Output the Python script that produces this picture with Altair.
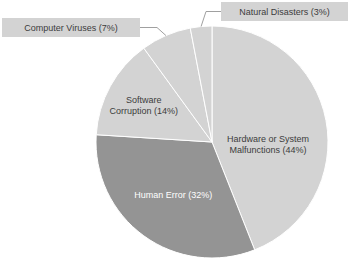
import altair as alt
import pandas as pd
import numpy as np

# ---- data ----
labels = ["Hardware or System Malfunctions", "Human Error", "Software Corruption",
          "Computer Viruses", "Natural Disasters"]
shares = [44, 32, 14, 7, 3]
text_lines = [["Hardware or System", "Malfunctions (44%)"], ["Human Error (32%)"],
              ["Software", "Corruption (14%)"], ["Computer Viruses (7%)"],
              ["Natural Disasters (3%)"]]

# ---- styles / layout ----
colors = ["#d3d3d3", "#949494", "#d3d3d3", "#d3d3d3", "#d3d3d3"]
FONT = "Liberation Sans"
W, H = 350, 260
CX, CY, R = 212, 142, 116

df = pd.DataFrame({"label": labels, "share": shares, "idx": list(range(len(labels)))})
df["text"] = ["\n".join(t) for t in text_lines]
df["mid"] = df["share"].cumsum() - df["share"] / 2

base = alt.Chart(df)

pie = base.mark_arc(outerRadius=R, stroke="white", strokeWidth=1).encode(
    theta=alt.Theta("share:Q", stack=True),
    order=alt.Order("idx:Q"),
    color=alt.Color("label:N", scale=alt.Scale(domain=labels, range=colors), legend=None),
    x=alt.value(CX), y=alt.value(CY),
)

theta_mid = alt.Theta("mid:Q", stack=False, scale=alt.Scale(domain=[0, 100], range=[0, 2 * np.pi]))

def inside(i, r, color, dy=0):
    return base.transform_filter(alt.datum.idx == i).mark_text(
        radius=r, font=FONT, fontSize=9, lineBreak="\n", lineHeight=11,
        color=color, dy=dy, align="center", baseline="middle",
    ).encode(theta=theta_mid, text="text:N", x=alt.value(CX), y=alt.value(CY))

lab_hw = inside(0, 57, "#3c3c3c", dy=8)
lab_he = inside(1, 66, "#ffffff")
lab_sw = inside(2, 78, "#3c3c3c", dy=-4)

# ---- outside labels with boxes and leader lines ----
boxes = {3: (2, 140, 18, 37), 4: (221, 348, 2, 21)}
elbow_x = {3: 157, 4: 206}
box_rows, line_rows = [], []
for i, (x1, x2, y1, y2) in boxes.items():
    ym = (y1 + y2) / 2
    box_rows.append({"label": labels[i], "text": text_lines[i][0], "x1": x1, "x2": x2,
                     "y1": y1, "y2": y2, "xc": (x1 + x2) / 2, "yc": ym})
    ang = df.loc[i, "mid"] / 100 * 2 * np.pi
    rim_x = CX + R * np.sin(ang)
    rim_y = CY - R * np.cos(ang)
    start_x = x2 if x2 < CX else x1
    pts = [(start_x, ym), (elbow_x[i], ym), (rim_x, rim_y)]
    for k, (px, py) in enumerate(pts):
        line_rows.append({"label": labels[i], "k": k, "px": px, "py": py})

bdf = pd.DataFrame(box_rows)
ldf = pd.DataFrame(line_rows)

rects = alt.Chart(bdf).mark_rect(fill="#d3d3d3").encode(
    x=alt.X("x1:Q", scale=None, axis=None), x2="x2:Q",
    y=alt.Y("y1:Q", scale=None, axis=None), y2="y2:Q",
)
box_text = alt.Chart(bdf).mark_text(font=FONT, fontSize=9, color="#3c3c3c",
                                    align="center", baseline="middle").encode(
    x=alt.X("xc:Q", scale=None, axis=None), y=alt.Y("yc:Q", scale=None, axis=None), text="text:N",
)
leaders = alt.Chart(ldf).mark_line(color="#a0a0a0", strokeWidth=1).encode(
    x=alt.X("px:Q", scale=None, axis=None), y=alt.Y("py:Q", scale=None, axis=None),
    detail="label:N", order="k:Q",
)

chart = alt.layer(pie, lab_hw, lab_he, lab_sw, leaders, rects, box_text).resolve_scale(
    theta="independent"
).properties(
    width=W, height=H, padding=0, autosize="none"
).configure_view(stroke=None)

chart.save("out.html", embed_options={"renderer": "svg", "actions": False})
